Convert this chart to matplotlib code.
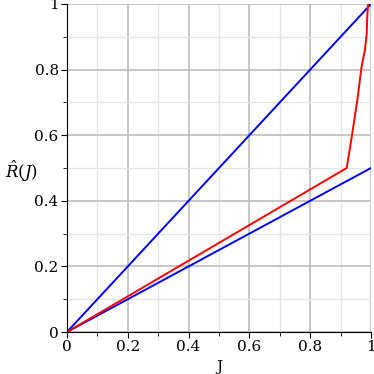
import matplotlib.pyplot as plt
from matplotlib.ticker import MultipleLocator

# curve data
j_vals = [0.0, 0.92, 0.935, 0.955, 0.969, 0.980, 0.986, 0.988, 0.991]
r_vals = [0.0, 0.50, 0.585, 0.707, 0.809, 0.86, 0.911, 0.97, 1.0]
ref_j = [0.0, 1.0]
upper = [0.0, 1.0]
lower = [0.0, 0.5]

plt.rcParams['font.family'] = 'DejaVu Serif'
plt.rcParams['mathtext.fontset'] = 'dejavuserif'

fig = plt.figure(figsize=(3.74, 3.74), dpi=100)
ax = fig.add_axes([67/374, 42/374, 304/374, 328/374])

ax.plot(ref_j, upper, color='blue', lw=1.4)
ax.plot(ref_j, lower, color='blue', lw=1.4)
ax.plot(j_vals, r_vals, color='red', lw=1.4)

ax.set_xlim(0, 1)
ax.set_ylim(0, 1)
ax.xaxis.set_major_locator(MultipleLocator(0.2))
ax.yaxis.set_major_locator(MultipleLocator(0.2))
ax.xaxis.set_minor_locator(MultipleLocator(0.1))
ax.yaxis.set_minor_locator(MultipleLocator(0.1))
ax.xaxis.set_major_formatter(plt.FuncFormatter(lambda v, p: '%g' % round(v, 2)))
ax.yaxis.set_major_formatter(plt.FuncFormatter(lambda v, p: '%g' % round(v, 2)))

ax.grid(True, which='major', color='#bdbdbd', lw=1.2)
ax.grid(True, which='minor', color='#e6e6e6', lw=1.0)
ax.set_axisbelow(True)

for s in ['top', 'right']:
    ax.spines[s].set_visible(False)
ax.tick_params(which='major', direction='out', length=4, labelsize=11, pad=2)
ax.tick_params(which='minor', direction='out', length=3)

ax.set_xlabel('J', fontsize=11, labelpad=4)
ax.set_ylabel(r'$\hat{R}(J)$', fontsize=12, rotation=0, ha='left', va='center')
ax.yaxis.set_label_coords(-0.205, 0.49)

fig.savefig('out.png', dpi=100)
